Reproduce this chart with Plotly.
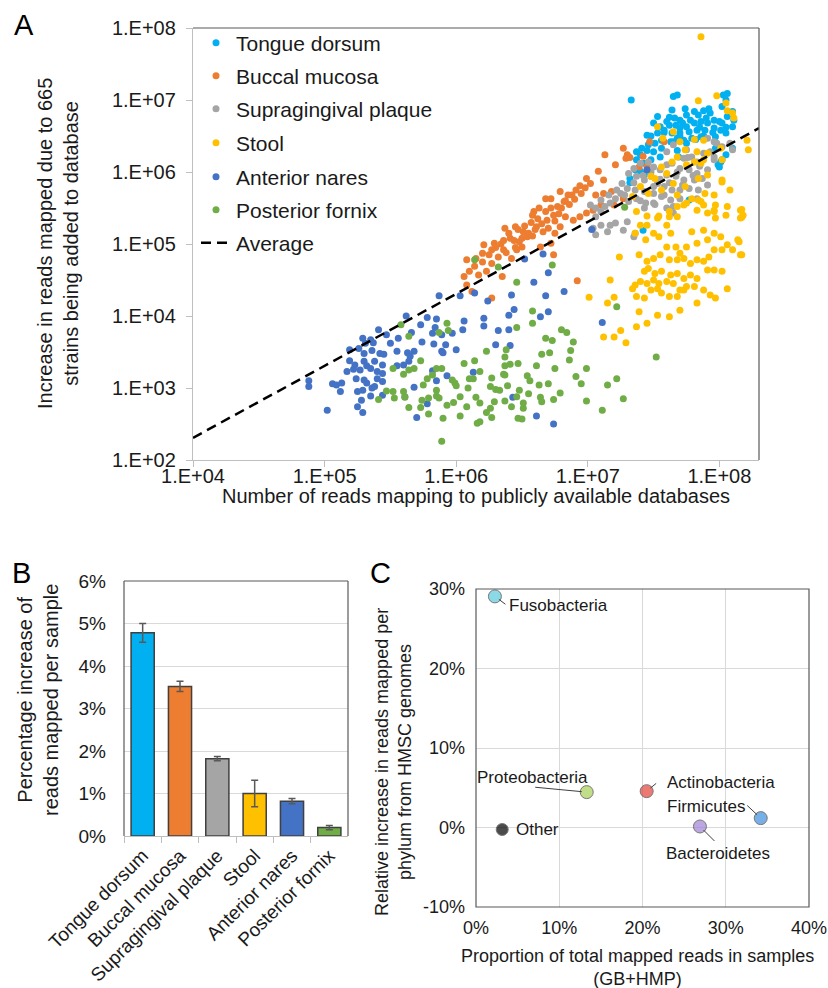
import plotly.graph_objects as go

# ---------------- Panel A data (log10 of reads: x = publicly available DBs, y = increase) ----------------
tongue_dorsum = [(7.33,7.00),(7.65,7.05),(7.68,7.07),(7.64,6.86),(7.53,6.77),(7.62,6.76),(7.70,6.72),(7.75,6.79),(7.81,6.84),(7.84,6.79),(7.88,6.85),(7.93,6.82),(7.96,6.72),(8.02,6.91),(8.03,7.07),(8.05,7.00),(8.06,6.77),(8.10,6.84),(8.11,6.72),(8.10,6.63),(8.02,6.68),(7.91,6.68),(7.86,6.70),(7.81,6.68),(7.75,6.63),(7.70,6.61),(7.67,6.65),(7.62,6.65),(7.55,6.63),(7.50,6.68),(7.45,6.51),(7.53,6.54),(7.58,6.58),(7.64,6.54),(7.70,6.54),(7.77,6.56),(7.83,6.58),(7.89,6.58),(7.96,6.61),(8.01,6.58),(8.05,6.54),(7.97,6.49),(7.86,6.49),(7.79,6.47),(7.73,6.44),(7.68,6.47),(7.63,6.42),(7.56,6.44),(7.51,6.40),(7.46,6.38),(7.41,6.33),(7.37,6.28),(7.50,6.28),(7.56,6.33),(7.37,6.17),(7.43,6.12),(7.36,6.03),(7.40,6.01),(7.32,5.91),(7.40,6.24),(7.69,6.21),(7.55,6.21),(8.05,6.24),(8.01,6.14),(8.00,6.07),(7.97,6.33),(7.77,5.61),(7.48,6.17),(8.06,7.09),(8.10,6.33),(7.99,6.10),(8.02,6.17),(7.42,5.19),(7.32,5.85),(7.43,5.97),(7.60,6.70),(7.66,6.75),(7.72,6.68),(7.78,6.72),(7.85,6.62),(7.90,6.75),(7.95,6.55),(7.70,6.50),(7.75,6.40),(7.82,6.45),(7.88,6.50),(7.58,6.55),(7.65,6.42),(8.00,6.70),(8.05,6.62),(7.92,6.88),(7.74,6.88),(7.68,6.30),(7.48,6.50),(7.45,6.30)]

buccal_mucosa = [(6.08,4.78),(6.06,4.55),(6.08,4.43),(6.14,4.69),(6.17,4.57),(6.20,4.87),(6.21,4.99),(6.23,4.62),(6.27,4.73),(6.29,5.01),(6.32,4.82),(6.35,4.55),(6.36,4.92),(6.37,5.22),(6.41,5.08),(6.42,4.80),(6.45,5.24),(6.46,4.92),(6.48,5.03),(6.50,4.96),(6.51,5.17),(6.54,5.10),(6.58,5.11),(6.59,5.45),(6.61,5.24),(6.63,5.50),(6.64,4.96),(6.66,5.17),(6.68,5.63),(6.69,5.33),(6.72,5.63),(6.72,5.01),(6.74,5.40),(6.75,5.15),(6.77,5.52),(6.79,5.73),(6.79,5.24),(6.82,5.59),(6.83,5.38),(6.85,5.68),(6.12,4.34),(6.27,4.25),(6.92,4.49),(7.47,6.42),(7.27,6.33),(7.30,6.24),(7.29,6.19),(7.21,6.10),(7.32,6.20),(7.08,6.01),(7.12,5.89),(6.99,5.91),(6.94,5.81),(6.91,5.75),(6.88,5.68),(7.18,5.73),(7.06,5.68),(7.12,5.70),(7.27,5.63),(7.39,6.07),(7.42,6.22),(7.45,6.08),(7.58,6.42),(6.89,5.33),(6.94,5.38),(6.99,5.43),(7.04,5.47),(7.10,5.54),(7.20,5.54),(6.74,4.85),(7.13,6.24),(6.30,4.95),(6.34,5.00),(6.38,4.88),(6.40,5.15),(6.44,5.05),(6.47,5.20),(6.50,5.08),(6.52,5.25),(6.55,5.15),(6.57,5.30),(6.60,5.20),(6.62,5.35),(6.65,5.28),(6.68,5.45),(6.70,5.22),(6.72,5.50),(6.75,5.32),(6.78,5.42),(6.80,5.50),(6.83,5.60),(6.86,5.55),(6.90,5.62),(6.95,5.70),(6.98,5.78),(7.02,5.84),(6.25,4.85),(6.20,4.75),(6.15,4.80),(6.10,4.62),(6.27,4.92),(6.36,5.05),(6.58,5.40),(6.45,4.95)]

supragingival_plaque = [(7.91,6.47),(7.96,6.42),(7.93,6.28),(7.96,6.17),(7.88,6.26),(7.83,6.14),(7.79,6.21),(7.75,6.31),(7.73,6.19),(7.65,6.38),(7.60,6.28),(7.64,6.12),(7.70,6.05),(7.77,6.03),(7.83,5.98),(7.91,6.03),(7.87,5.91),(7.81,5.89),(7.73,5.89),(7.67,5.94),(7.60,5.96),(7.55,6.03),(7.50,6.07),(7.46,6.14),(7.40,6.12),(7.35,6.05),(7.31,5.98),(7.37,5.94),(7.43,5.89),(7.48,5.94),(7.53,5.84),(7.58,5.80),(7.64,5.75),(7.70,5.75),(7.77,5.77),(7.84,5.75),(7.91,5.82),(7.70,5.63),(7.63,5.61),(7.56,5.66),(7.50,5.70),(7.43,5.73),(7.36,5.75),(7.30,5.77),(7.26,5.84),(7.25,5.70),(7.21,5.63),(7.17,5.57),(7.13,5.52),(7.10,5.61),(7.06,5.50),(7.02,5.54),(7.37,5.63),(7.44,5.57),(7.50,5.57),(7.31,5.59),(7.83,5.63),(7.96,6.21),(8.02,6.35),(8.10,6.31),(7.98,6.40),(8.08,6.40),(7.10,5.26),(7.17,5.26),(7.04,5.22),(7.06,5.13),(7.15,5.17),(7.21,5.29),(7.27,5.19),(7.30,5.31),(7.35,5.10),(7.36,5.15),(7.43,5.50),(7.51,5.55),(7.60,5.50),(7.65,5.43),(7.35,5.85),(7.42,5.95),(7.48,6.00),(7.55,5.90),(7.60,6.10),(7.68,6.00),(7.72,5.82),(7.80,5.95),(7.85,6.08),(7.28,5.68),(7.22,5.75),(7.16,5.68),(7.10,5.45),(7.06,5.38),(7.40,5.60),(7.58,5.68),(7.65,5.52),(7.76,6.20),(7.50,5.80),(7.62,5.85)]

stool = [(7.98,7.06),(8.05,6.96),(7.84,6.99),(8.06,6.85),(8.10,6.82),(7.53,6.63),(7.65,6.56),(7.57,6.47),(7.70,6.42),(7.81,6.45),(7.88,6.44),(7.74,6.31),(7.83,6.28),(7.88,6.17),(7.86,6.12),(7.81,6.14),(7.75,6.10),(7.68,6.21),(7.64,6.14),(7.56,6.07),(7.48,5.94),(7.51,5.91),(7.60,5.98),(7.65,5.84),(7.74,5.80),(7.68,5.68),(7.56,5.75),(7.46,5.70),(7.40,5.80),(7.34,5.66),(7.37,5.45),(7.45,5.39),(7.54,5.39),(7.62,5.45),(7.68,5.52),(7.75,5.57),(7.84,5.61),(7.89,5.70),(7.84,5.91),(7.91,5.96),(8.01,6.33),(8.02,6.17),(8.02,5.89),(8.08,5.75),(7.96,5.68),(7.97,5.54),(7.96,5.45),(8.06,5.52),(8.16,5.47),(8.21,6.44),(8.22,6.31),(7.91,6.26),(7.79,5.63),(7.86,7.88),(8.11,6.75),(8.17,5.37),(8.17,4.85),(8.14,5.06),(8.02,5.86),
         (8.17,5.48),(8.18,5.40),(8.16,5.36),(8.05,5.40),(7.96,5.47),(7.97,5.36),(7.91,5.43),(7.88,5.54),(7.86,5.59),(7.83,5.47),(7.73,5.54),(7.68,5.38),(7.60,5.26),(7.62,5.38),(7.53,5.36),(7.50,5.15),(7.44,5.06),(7.45,5.26),(7.40,5.26),(7.39,4.85),(7.54,5.10),(7.60,4.96),(7.63,5.15),(7.67,4.96),(7.70,4.87),(7.75,4.96),(7.79,5.17),(7.83,5.01),(7.88,5.19),(7.91,5.06),(7.96,5.15),(8.01,5.10),(8.06,4.99),(8.10,4.92),(8.16,4.85),(8.15,5.03),(8.02,4.92),(7.96,4.92),(7.92,4.82),(7.88,4.76),(7.83,4.78),(7.78,4.73),(7.73,4.80),(7.68,4.78),(7.62,4.78),(7.55,4.85),(7.50,4.80),(7.45,4.76),(7.43,4.62),(7.46,4.66),(7.51,4.59),(7.56,4.62),(7.63,4.57),(7.68,4.59),(7.73,4.52),(7.78,4.57),(7.83,4.52),(7.91,4.64),(7.96,4.64),(8.02,4.62),(7.81,4.41),(7.75,4.41),(7.70,4.36),(7.65,4.45),(7.60,4.48),(7.54,4.45),(7.50,4.50),(7.45,4.45),(7.40,4.48),(7.36,4.43),(7.34,4.38),(7.37,4.27),(7.43,4.25),(7.48,4.36),(7.53,4.38),(7.56,4.32),(7.62,4.27),(7.68,4.27),(7.73,4.36),(7.83,4.18),(7.88,4.36),(7.93,4.29),(7.97,4.25),(8.06,4.38),(7.70,4.08),(7.62,3.99),(7.53,4.01),(7.45,3.90),(7.39,4.06),(7.37,3.85),(7.24,4.82),(7.17,4.50),(7.01,4.26),(7.20,4.26),(7.15,4.18),(7.25,3.80),(7.29,3.63),(7.12,3.71),(7.20,3.71),(7.36,5.15)]

anterior_nares = [(5.87,4.28),(5.62,4.00),(5.78,3.98),(5.85,3.96),(5.41,3.81),(5.73,3.88),(5.84,3.84),(5.82,3.76),(5.89,3.74),(5.66,3.77),(5.56,3.69),(5.47,3.74),(5.29,3.69),(5.35,3.67),(5.31,3.62),(5.37,3.63),(5.50,3.62),(5.74,3.64),(5.83,3.61),(5.19,3.53),(5.26,3.55),(5.30,3.48),(5.36,3.52),(5.42,3.48),(5.45,3.47),(5.55,3.51),(5.63,3.49),(5.68,3.51),(5.65,3.44),(5.64,3.37),(5.89,3.51),(5.92,3.60),(5.19,3.38),(5.23,3.32),(5.30,3.37),(5.32,3.31),(5.38,3.37),(5.44,3.32),(5.17,3.23),(5.22,3.26),(5.27,3.25),(5.35,3.27),(5.40,3.23),(5.44,3.20),(5.55,3.31),(5.60,3.32),(5.82,3.24),(5.24,3.13),(5.30,3.11),(5.40,3.13),(5.44,3.09),(5.32,3.07),(5.36,3.00),(4.88,3.10),(4.88,3.02),(5.06,3.06),(5.09,3.04),(5.13,3.07),(5.12,2.95),(5.25,2.95),(5.29,2.97),(5.38,3.02),(5.28,2.83),(5.35,2.89),(5.44,2.90),(5.61,2.88),(5.68,3.01),(5.85,3.10),(5.93,3.17),(5.25,2.74),(5.29,2.66),(5.02,2.69),(5.70,2.59),(5.78,2.78),(5.90,3.49),
                  (6.03,4.28),(6.14,4.32),(6.24,4.21),(6.42,4.29),(6.68,4.28),(6.82,4.34),(6.70,4.60),(6.59,4.47),(6.06,3.93),(6.21,3.97),(6.21,3.86),(6.32,3.80),(6.40,3.81),(6.40,4.01),(6.44,4.09),(6.64,3.99),(6.70,4.06),(5.97,3.76),(6.00,3.53),(6.05,3.81),(6.30,3.60),(6.41,3.59),(6.13,3.22),(6.43,2.87),(6.61,2.61),(6.74,2.50),(7.11,3.91),(7.03,5.20),(6.52,4.79),(6.66,4.86),(7.45,6.03)]

posterior_fornix = [(5.58,3.88),(5.64,3.72),(5.87,3.77),(5.93,3.90),(5.94,3.80),(5.52,3.27),(5.60,3.19),(5.64,3.25),(5.68,3.27),(5.73,3.38),(5.47,2.96),(5.52,2.95),(5.53,2.86),(5.41,2.84),(5.60,2.95),(5.61,2.87),(5.64,2.73),(5.73,2.73),(5.74,2.83),(5.79,2.86),(5.79,2.64),(5.85,2.89),(5.87,2.86),(5.85,2.97),(5.78,3.13),(5.75,3.04),(5.82,3.18),(5.85,3.27),(5.89,3.27),(5.93,2.76),(5.89,2.26),(5.90,2.58),
                    (6.73,4.71),(6.46,4.47),(6.58,4.07),(6.58,3.90),(6.46,3.84),(6.80,3.81),(6.84,3.77),(6.68,3.69),(6.73,3.66),(6.89,3.64),(6.71,3.49),(6.65,3.47),(6.87,3.52),(6.86,3.39),(6.61,3.31),(6.75,3.27),(6.99,3.27),(6.91,3.16),(6.95,3.06),(6.38,3.53),(6.37,3.43),(6.37,3.31),(6.41,3.33),(6.47,3.34),(6.23,3.51),(6.14,3.38),(6.06,3.34),(6.18,3.23),(6.13,3.13),(6.10,3.13),(6.27,3.14),(6.36,3.19),(6.37,3.18),(6.26,3.02),(6.30,2.98),(6.33,2.97),(6.09,3.00),(6.00,3.03),(5.99,3.07),(5.97,3.11),(6.39,3.03),(6.48,2.97),(6.54,3.17),(6.56,3.10),(6.63,3.04),(6.70,3.06),(6.79,2.93),(6.74,2.84),(6.65,2.81),(6.64,2.87),(6.55,2.92),(6.46,2.88),(6.51,2.79),(6.51,2.72),(6.42,2.74),(6.37,2.82),(6.29,2.81),(6.26,2.72),(6.23,2.66),(6.27,2.59),(6.18,2.79),(6.15,2.87),(6.08,2.74),(6.03,2.88),(5.98,2.80),(6.03,2.61),(6.18,2.53),(6.16,2.51),(6.47,2.58),(6.50,2.57),(6.99,2.82),(7.11,2.69),(7.22,3.13),(7.22,4.13),(7.15,3.04),(7.27,2.85),(7.52,3.43),(6.14,4.78),(6.32,4.68),(7.28,5.51)]

# Average line (ratio of increase to publicly mapped reads)
average_x = [1.0e4, 2.0e8]
average_y = [203, 4.06e6]

x_tick_vals_a = [1e4, 1e5, 1e6, 1e7, 1e8]
x_tick_text_a = ["1.E+04", "1.E+05", "1.E+06", "1.E+07", "1.E+08"]
y_tick_vals_a = [1e2, 1e3, 1e4, 1e5, 1e6, 1e7, 1e8]
y_tick_text_a = ["1.E+02", "1.E+03", "1.E+04", "1.E+05", "1.E+06", "1.E+07", "1.E+08"]

site_names = ["Tongue dorsum", "Buccal mucosa", "Supragingival plaque", "Stool", "Anterior nares", "Posterior fornix"]
site_colors = ["#00B0F0", "#ED7D31", "#A5A5A5", "#FFC000", "#4472C4", "#70AD47"]

# ---------------- Panel B data ----------------
pct_increase = [0.0478, 0.0352, 0.0182, 0.0100, 0.0082, 0.0020]
pct_error = [0.0022, 0.0012, 0.0005, 0.0031, 0.0006, 0.0005]
y_tick_vals_b = [0, 0.01, 0.02, 0.03, 0.04, 0.05, 0.06]
y_tick_text_b = ["0%", "1%", "2%", "3%", "4%", "5%", "6%"]

# ---------------- Panel C data ----------------
phyla = ["Fusobacteria", "Proteobacteria", "Actinobacteria", "Firmicutes", "Bacteroidetes", "Other"]
phyla_proportion = [0.0227, 0.133, 0.205, 0.342, 0.269, 0.0315]
phyla_increase = [0.2907, 0.0445, 0.0457, 0.0118, 0.0013, -0.0025]
phyla_colors = ["#5BC8DC", "#A6CF55", "#E5423A", "#3D8FDC", "#A283D8", "#000000"]
x_tick_vals_c = [0, 0.1, 0.2, 0.3, 0.4]
x_tick_text_c = ["0%", "10%", "20%", "30%", "40%"]
y_tick_vals_c = [-0.1, 0, 0.1, 0.2, 0.3]
y_tick_text_c = ["-10%", "0%", "10%", "20%", "30%"]

FONT = "Arial, Liberation Sans, sans-serif"
TXT = "#1a1a1a"
W, H = 828, 988


def px_x(p):
    return p / W


def px_y(p):
    return 1 - p / H


fig = go.Figure()

# one single-entry legend per row so the row spacing matches the reference
legend_rows = [43, 76, 109, 143, 177, 210, 243]
legend_ids = ["legend", "legend2", "legend3", "legend4", "legend5", "legend6", "legend7"]

series = [tongue_dorsum, buccal_mucosa, supragingival_plaque, stool, anterior_nares, posterior_fornix]
for i, (name, color, pts) in enumerate(zip(site_names, site_colors, series)):
    fig.add_trace(go.Scatter(
        x=[10 ** p[0] for p in pts], y=[10 ** p[1] for p in pts],
        mode="markers", name=name, legend=legend_ids[i],
        marker=dict(color=color, size=7, line=dict(width=0)),
        xaxis="x", yaxis="y"))

fig.add_trace(go.Scatter(x=average_x, y=average_y, mode="lines", name="Average", legend=legend_ids[6],
                         line=dict(color="black", width=2.5, dash="10px,6px"),
                         xaxis="x", yaxis="y"))

# Panel B bars
fig.add_trace(go.Bar(x=site_names, y=pct_increase, showlegend=False,
                     marker=dict(color=site_colors, line=dict(color="#404040", width=1.5)),
                     error_y=dict(type="data", array=pct_error, color="#595959", thickness=1.5, width=3.5),
                     width=0.62, xaxis="x2", yaxis="y2"))

# Panel C points
fig.add_trace(go.Scatter(x=phyla_proportion, y=phyla_increase, mode="markers", showlegend=False,
                         marker=dict(color=phyla_colors, size=[13, 13, 13, 13, 13, 12],
                                     line=dict(color="#404040", width=1)),
                         xaxis="x3", yaxis="y3"))

tickfont_a = dict(family=FONT, size=20, color=TXT)
tickfont_b = dict(family=FONT, size=19, color=TXT)
tickfont_c = dict(family=FONT, size=18, color=TXT)

legend_layouts = {}
for lid, row in zip(legend_ids, legend_rows):
    legend_layouts[lid] = dict(x=px_x(196), y=px_y(row), xanchor="left", yanchor="middle",
                               font=dict(family=FONT, size=21, color=TXT), bgcolor="rgba(0,0,0,0)",
                               borderwidth=0)

fig.update_layout(
    width=W, height=H, margin=dict(l=0, r=0, t=0, b=0, autoexpand=False),
    paper_bgcolor="white", plot_bgcolor="white",
    font=dict(family=FONT, color=TXT),
    showlegend=True,
    **legend_layouts,
    xaxis=dict(domain=[px_x(193), px_x(759)], anchor="y", type="log", range=[4, 8.301],
               tickvals=x_tick_vals_a, ticktext=x_tick_text_a, ticks="outside", ticklen=6,
               tickcolor="#bfbfbf", showline=True, linecolor="#bfbfbf", linewidth=1.3,
               showgrid=False, zeroline=False, tickfont=tickfont_a, automargin=False,
               ticklabelstandoff=-8),
    yaxis=dict(domain=[px_y(460), px_y(28)], anchor="x", type="log", range=[2, 8],
               tickvals=y_tick_vals_a, ticktext=y_tick_text_a, ticks="outside", ticklen=6,
               tickcolor="#bfbfbf", showline=True, linecolor="#bfbfbf", linewidth=1.3,
               showgrid=False, zeroline=False, tickfont=tickfont_a, ticklabelstandoff=6, automargin=False),
    xaxis2=dict(domain=[px_x(124), px_x(348)], anchor="y2", type="category",
                range=[-0.5, 5.5], tickangle=-45, ticks="outside", tickson="boundaries",
                ticklen=6, tickcolor="#bfbfbf", showline=True, linecolor="#bfbfbf", linewidth=1.3,
                showgrid=False, zeroline=False, tickfont=tickfont_b, automargin=False),
    yaxis2=dict(domain=[px_y(836), px_y(581)], anchor="x2", range=[0, 0.06],
                tickvals=y_tick_vals_b, ticktext=y_tick_text_b, showgrid=True, gridcolor="#d9d9d9",
                zeroline=False, showline=False, tickfont=tickfont_b, ticklabelstandoff=17, automargin=False),
    xaxis3=dict(domain=[px_x(476), px_x(809)], anchor="y3", range=[0, 0.4],
                tickvals=x_tick_vals_c, ticktext=x_tick_text_c, showgrid=True, gridcolor="#d9d9d9",
                zeroline=False, showline=False, tickfont=tickfont_c, ticklabelstandoff=8, automargin=False),
    yaxis3=dict(domain=[px_y(907), px_y(589)], anchor="x3", range=[-0.1, 0.3],
                tickvals=y_tick_vals_c, ticktext=y_tick_text_c, showgrid=True, gridcolor="#d9d9d9",
                zeroline=False, showline=False, tickfont=tickfont_c, ticklabelstandoff=10, automargin=False),
)

frame = "#595959"
shapes = [
    # Panel A: top and right borders
    dict(type="line", xref="paper", yref="paper", x0=px_x(193), x1=px_x(759), y0=px_y(28), y1=px_y(28), line=dict(color=frame, width=1.2)),
    dict(type="line", xref="paper", yref="paper", x0=px_x(759), x1=px_x(759), y0=px_y(28), y1=px_y(460), line=dict(color=frame, width=1.2)),
    # Panel B: top, left, right
    dict(type="line", xref="paper", yref="paper", x0=px_x(124), x1=px_x(348), y0=px_y(581), y1=px_y(581), line=dict(color=frame, width=1.2)),
    dict(type="line", xref="paper", yref="paper", x0=px_x(124), x1=px_x(124), y0=px_y(581), y1=px_y(836), line=dict(color=frame, width=1.2)),
    dict(type="line", xref="paper", yref="paper", x0=px_x(348), x1=px_x(348), y0=px_y(581), y1=px_y(836), line=dict(color=frame, width=1.2)),
    # Panel C: full frame
    dict(type="rect", xref="paper", yref="paper", x0=px_x(476), x1=px_x(809), y0=px_y(589), y1=px_y(907), line=dict(color=frame, width=1.2)),
]
fig.update_layout(shapes=shapes)

ann = []
# Panel letters
for letter, x, y in [("A", 12, 25), ("B", 10, 573), ("C", 368, 573)]:
    ann.append(dict(text=letter, x=px_x(x), y=px_y(y), xref="paper", yref="paper", xanchor="left", yanchor="middle",
                    showarrow=False, font=dict(family=FONT, size=29, color="black")))

# Axis titles
ann.append(dict(text="Number of reads mapping to publicly available databases", x=px_x(476), y=px_y(496),
                xref="paper", yref="paper", xanchor="center", yanchor="middle", showarrow=False,
                font=dict(family=FONT, size=20, color=TXT)))
ann.append(dict(text="Increase in reads mapped due to 665<br>strains being added to database", x=px_x(58), y=px_y(244),
                xref="paper", yref="paper", xanchor="center", yanchor="middle", showarrow=False, textangle=-90,
                font=dict(family=FONT, size=20, color=TXT)))
ann.append(dict(text="Percentage increase of<br>reads mapped per sample", x=px_x(38), y=px_y(700),
                xref="paper", yref="paper", xanchor="center", yanchor="middle", showarrow=False, textangle=-90,
                font=dict(family=FONT, size=20, color=TXT)))
ann.append(dict(text="Relative increase in reads mapped per<br>phylum from HMSC genomes", x=px_x(393), y=px_y(762),
                xref="paper", yref="paper", xanchor="center", yanchor="middle", showarrow=False, textangle=-90,
                font=dict(family=FONT, size=18, color=TXT)))
ann.append(dict(text="Proportion of total mapped reads in samples<br>(GB+HMP)", x=px_x(637), y=px_y(967),
                xref="paper", yref="paper", xanchor="center", yanchor="middle", showarrow=False,
                font=dict(family=FONT, size=18, color=TXT)))

# Panel C labels and leader lines (offsets in pixels from each point)
label_style = {
    "Fusobacteria": dict(xanchor="left", xshift=12, yshift=-9, tail=(12, 9)),
    "Proteobacteria": dict(xanchor="center", xshift=-54, yshift=15, tail=(-53, -5)),
    "Actinobacteria": dict(xanchor="left", xshift=18, yshift=9, tail=(11, -9)),
    "Firmicutes": dict(xanchor="left", xshift=-96, yshift=12, tail=(-15, -14)),
    "Bacteroidetes": dict(xanchor="left", xshift=-36, yshift=-27, tail=(16, 16)),
    "Other": dict(xanchor="left", xshift=12, yshift=0, tail=None),
}
for name, xv, yv in zip(phyla, phyla_proportion, phyla_increase):
    st = label_style[name]
    ann.append(dict(text=name, x=xv, y=yv, xref="x3", yref="y3", xanchor=st["xanchor"], yanchor="middle",
                    xshift=st["xshift"], yshift=st["yshift"], showarrow=False,
                    font=dict(family=FONT, size=17, color=TXT)))
    if st["tail"] is not None:
        ann.append(dict(text="", x=xv, y=yv, xref="x3", yref="y3", showarrow=True, arrowhead=0,
                        arrowwidth=1, arrowcolor="#404040", ax=st["tail"][0], ay=st["tail"][1],
                        standoff=5))

fig.update_layout(annotations=ann)

# remove the browser's default 8px body margin so the figure sits at the page origin
fig.write_html("out.html", config={"displayModeBar": False},
               post_script="document.body.style.margin='0px';document.body.style.overflow='hidden';")
